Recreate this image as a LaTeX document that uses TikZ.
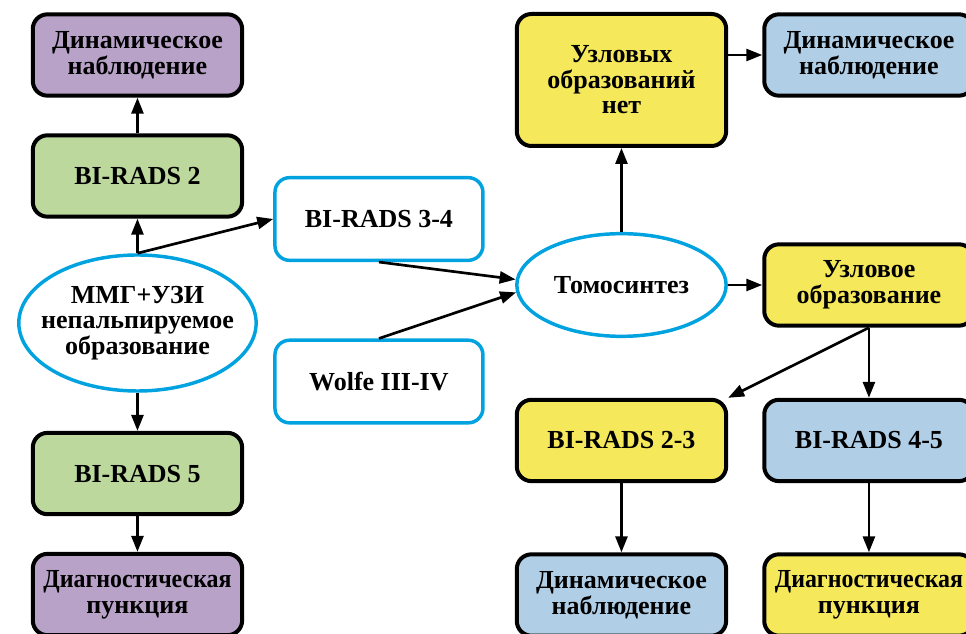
\documentclass[tikz,border=0pt]{standalone}
\usepackage{fontspec}
\setmainfont{Liberation Serif}
\usepackage{xcolor}
\usepackage{graphicx}
\usetikzlibrary{shapes.geometric, arrows.meta, positioning}

\definecolor{lilac}{HTML}{B8A2C8}
\definecolor{sage}{HTML}{BCD89C}
\definecolor{lemon}{HTML}{F5E85B}
\definecolor{sky}{HTML}{B0CFE7}
\definecolor{cyanline}{HTML}{00A3E0}

\newcommand{\narrow}[1]{\scalebox{0.92}[1]{#1}}

\begin{document}
\begin{tikzpicture}  [
        on grid,
        font = \fontsize{19.5}{19.2}\selectfont\bfseries,
        oval/.style = {ellipse, draw=cyanline, line width=2.6pt, fill=white, inner sep=-14pt, align=center},
        block/.style = {rectangle, rounded corners=11pt, draw, line width=3pt, minimum width=157pt, minimum height=61pt, inner sep=0pt, align=center},
        frame/.style = {rectangle, rounded corners=11pt, draw=cyanline, line width=2.6pt, fill=white, minimum width=156pt, minimum height=62pt, inner sep=0pt, align=center},
        arr/.style = {line width=2pt, -{Triangle[length=12pt,width=9pt]}}
    ]

    \useasboundingbox (-103.1pt,-233.25pt) rectangle (621.4pt,242.25pt);

    % left column
    \node[oval, minimum width=178pt, minimum height=102pt] (mmg) {ММГ+УЗИ\\непальпируемое\\образование};
    \node[block, fill=sage,  above = 110.25pt of mmg] (b2)    {BI-RADS 2};
    \node[block, fill=lilac, above = 90.75pt of b2]   (dynL)  {Динамическое\\наблюдение};
    \node[block, fill=sage,  below = 112.9pt of mmg]  (b5)    {BI-RADS 5};
    \node[block, fill=lilac, below = 90.75pt of b5]   (diagL) {\narrow{Диагностическая}\\пункция};

    % middle
    \node[oval, minimum width=157pt, minimum height=77pt, above right = 28.5pt and 363pt of mmg] (tomo) {Томосинтез};
    \node[frame, above left = 49.5pt and 181.9pt of tomo] (b34)   {BI-RADS 3-4};
    \node[frame, below left = 72.4pt and 181.9pt of tomo] (wolfe) {Wolfe III-IV};

    % right part
    \node[block, fill=lemon, minimum height=99pt, above = 153.75pt of tomo] (none) {Узловых\\образований\\нет};
    \node[block, fill=lemon, right = 185.6pt of tomo] (uzl)   {Узловое\\образование};
    \node[block, fill=sky,   above = 172.5pt of uzl]  (dynR)  {Динамическое\\наблюдение};
    \node[block, fill=lemon, below = 116.6pt of tomo] (b23)   {BI-RADS 2-3};
    \node[block, fill=sky,   below = 116.6pt of uzl]  (b45)   {BI-RADS 4-5};
    \node[block, fill=sky,   below = 115.9pt of b23]  (dynB)  {Динамическое\\наблюдение};
    \node[block, fill=lemon, below = 115.9pt of b45]  (diagB) {\narrow{Диагностическая}\\пункция};

    \draw[arr] (b2) -- (dynL);
    \draw[arr] (mmg) -- (b2);
    \draw[arr] (mmg.north) -- (b34.west);
    \draw[arr] (mmg) -- (b5);
    \draw[arr] (b5) -- (diagL);
    \draw[arr] (b34.south) -- (tomo.177);
    \draw[arr] (wolfe.north) -- (tomo.184);
    \draw[arr] (tomo) -- (none);
    \draw[arr] (none.east |- dynR) -- (dynR);
    \draw[arr] (tomo) -- (uzl);
    \draw[arr] (uzl) -- (b45);
    \draw[arr] (uzl.south) -- (b23.north east);
    \draw[arr] (b23) -- (dynB);
    \draw[arr] (b45) -- (diagB);

\end{tikzpicture}
\end{document}
